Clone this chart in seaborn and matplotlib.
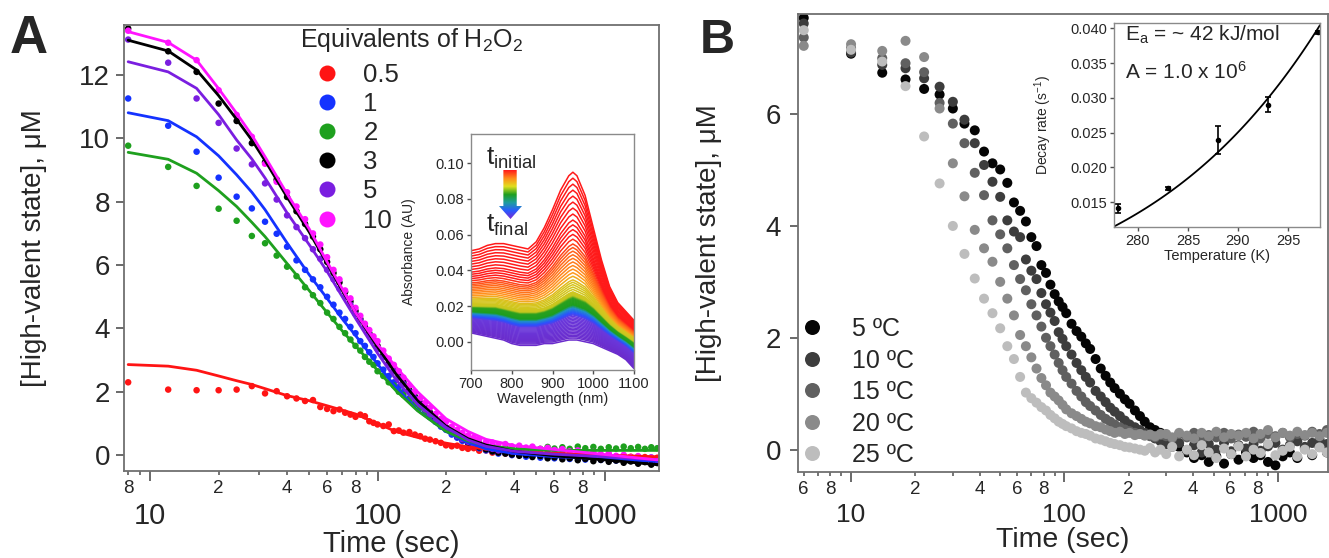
import numpy as np
import pandas as pd
import matplotlib
matplotlib.use("Agg")
import matplotlib.pyplot as plt
import seaborn as sns
from matplotlib.ticker import FixedLocator, FixedFormatter, FuncFormatter, FormatStrFormatter
from matplotlib.lines import Line2D
from matplotlib.patches import Polygon
from matplotlib.colors import LinearSegmentedColormap

# ---------------- Panel A: decay for different H2O2 equivalents ----------------
equiv_labels = ["0.5", "1", "2", "3", "5", "10"]
equiv_colors = ["#ff1414", "#1432ff", "#1ea01e", "#000000", "#7a1ee0", "#ff14ff"]

time_a = [8, 12, 16, 20, 24, 28, 32, 36, 40, 44, 48, 52, 56, 60, 64, 68, 72, 76, 80, 84, 88, 92, 96, 100,
          106, 112, 118, 124, 130, 138, 146, 154, 162, 170, 180, 190, 200, 212, 224, 236, 250, 265, 280,
          300, 320, 340, 365, 390, 420, 450, 480, 520, 560, 600, 650, 700, 760, 820, 890, 960,
          1040, 1120, 1210, 1300, 1400, 1500, 1600, 1700]

conc_a_05 = [2.30, 2.07, 2.05, 2.05, 2.07, 2.18, 1.95, 2.02, 1.86, 1.79, 1.71, 1.74, 1.52, 1.46, 1.39, 1.44,
             1.34, 1.28, 1.21, 1.28, 1.23, 1.07, 1.02, 0.97, 0.92, 0.97, 0.76, 0.78, 0.71, 0.73, 0.65, 0.60,
             0.52, 0.49, 0.44, 0.39, 0.31, 0.28, 0.30, 0.23, 0.20, 0.22, 0.14, 0.15, 0.08, 0.10, 0.05, 0.07,
             0.02, 0.04, -0.02, 0.03, -0.03, 0.00, -0.04, 0.02, -0.05, -0.02, -0.06, -0.03, -0.07, -0.04,
             -0.08, -0.05, -0.09, -0.06, -0.10, -0.08]
conc_a_1 = [11.26, 10.40, 9.58, 8.76, 8.16, 7.79, 7.37, 6.99, 6.58, 6.15, 5.85, 5.55, 5.30, 5.00, 4.75, 4.50,
            4.30, 4.05, 3.85, 3.60, 3.45, 3.25, 3.10, 2.90, 2.70, 2.50, 2.30, 2.15, 2.00, 1.80, 1.65, 1.50,
            1.35, 1.20, 1.05, 0.90, 0.80, 0.65, 0.55, 0.45, 0.38, 0.30, 0.22, 0.15, 0.12, 0.05, 0.06, 0.00,
            0.02, -0.05, -0.02, -0.08, -0.05, -0.10, -0.07, -0.12, -0.08, -0.14, -0.10, -0.15, -0.11, -0.17,
            -0.12, -0.18, -0.14, -0.20, -0.16, -0.22]
conc_a_2 = [9.77, 9.10, 8.50, 7.78, 7.40, 6.92, 6.69, 6.30, 5.95, 5.65, 5.30, 5.05, 4.80, 4.50, 4.30, 4.05,
            3.85, 3.65, 3.45, 3.30, 3.10, 2.95, 2.85, 2.65, 2.50, 2.30, 2.20, 2.00, 1.90, 1.75, 1.60, 1.50,
            1.35, 1.25, 1.10, 1.00, 0.85, 0.75, 0.70, 0.55, 0.50, 0.42, 0.38, 0.30, 0.30, 0.22, 0.25, 0.20,
            0.22, 0.18, 0.24, 0.20, 0.26, 0.21, 0.25, 0.20, 0.27, 0.22, 0.26, 0.20, 0.25, 0.21, 0.27, 0.22,
            0.26, 0.20, 0.25, 0.22]
conc_a_3 = [13.47, 12.75, 12.10, 11.10, 10.55, 9.85, 9.25, 8.70, 8.15, 7.70, 7.30, 6.90, 6.50, 6.10, 5.75, 5.45,
            5.15, 4.85, 4.55, 4.30, 4.05, 3.85, 3.65, 3.45, 3.15, 2.90, 2.70, 2.50, 2.30, 2.05, 1.85, 1.65,
            1.50, 1.35, 1.15, 1.00, 0.88, 0.72, 0.60, 0.50, 0.40, 0.32, 0.25, 0.18, 0.12, 0.08, 0.05, 0.02,
            -0.02, 0.00, -0.06, -0.03, -0.10, -0.07, -0.13, -0.10, -0.16, -0.12, -0.19, -0.15, -0.21, -0.17,
            -0.24, -0.20, -0.27, -0.22, -0.30, -0.25]
conc_a_5 = [13.12, 12.39, 11.26, 10.49, 9.68, 9.18, 8.58, 8.07, 7.57, 7.20, 6.85, 6.50, 6.20, 5.85, 5.55, 5.25,
            5.00, 4.75, 4.45, 4.25, 4.00, 3.80, 3.60, 3.35, 3.10, 2.85, 2.65, 2.45, 2.25, 2.00, 1.80, 1.60,
            1.45, 1.30, 1.10, 0.95, 0.85, 0.70, 0.60, 0.50, 0.42, 0.35, 0.30, 0.25, 0.20, 0.15, 0.17, 0.12,
            0.14, 0.08, 0.11, 0.05, 0.08, 0.02, 0.05, 0.00, 0.03, -0.03, 0.01, -0.05, -0.02, -0.07,
            -0.03, -0.09, -0.05, -0.10, -0.07, -0.12]
conc_a_10 = [13.40, 13.02, 12.47, 11.52, 10.74, 10.05, 9.20, 8.63, 8.30, 7.85, 7.45, 7.00, 6.65, 6.25, 5.85, 5.55,
             5.20, 4.95, 4.65, 4.40, 4.15, 3.95, 3.75, 3.60, 3.30, 3.05, 2.85, 2.65, 2.45, 2.20, 2.00, 1.80,
             1.65, 1.50, 1.30, 1.15, 1.05, 0.90, 0.80, 0.70, 0.62, 0.55, 0.50, 0.42, 0.40, 0.33, 0.35, 0.28,
             0.30, 0.24, 0.27, 0.20, 0.23, 0.16, 0.19, 0.12, 0.15, 0.08, 0.10, 0.03, 0.06, -0.02,
             0.01, -0.06, -0.03, -0.10, -0.08, -0.15]

fit_time_a = [8, 12, 16, 20, 24, 28, 32, 40, 50, 60, 70, 80, 100, 120, 150, 200, 250, 300, 400, 600, 1000, 1700]
fit_a_05 = [2.86, 2.81, 2.68, 2.50, 2.35, 2.23, 2.10, 1.88, 1.72, 1.56, 1.42, 1.30, 1.00, 0.75, 0.56, 0.38,
            0.26, 0.19, 0.12, 0.06, 0.00, -0.05]
fit_a_1 = [10.81, 10.56, 10.05, 9.45, 8.85, 8.30, 7.75, 6.70, 5.70, 4.95, 4.30, 3.78, 2.88, 2.15, 1.42, 0.75,
           0.40, 0.20, 0.05, -0.05, -0.12, -0.20]
fit_a_2 = [9.56, 9.34, 8.90, 8.35, 7.85, 7.35, 6.90, 6.05, 5.20, 4.50, 3.92, 3.45, 2.68, 2.05, 1.40, 0.75,
           0.45, 0.30, 0.20, 0.15, 0.15, 0.15]
fit_a_3 = [13.10, 12.76, 12.16, 11.35, 10.60, 9.95, 9.30, 8.15, 7.05, 6.05, 5.20, 4.50, 3.42, 2.58, 1.72, 0.92,
           0.52, 0.32, 0.12, -0.02, -0.15, -0.30]
fit_a_5 = [12.42, 12.10, 11.58, 10.75, 9.95, 9.35, 8.75, 7.65, 6.65, 5.80, 5.00, 4.32, 3.22, 2.40, 1.60, 0.88,
           0.48, 0.28, 0.12, 0.03, -0.05, -0.15]
fit_a_10 = [13.37, 13.03, 12.47, 11.57, 10.79, 10.10, 9.42, 8.25, 7.15, 6.10, 5.25, 4.50, 3.50, 2.80, 2.00, 1.15,
            0.75, 0.50, 0.30, 0.18, 0.02, -0.15]

# inset A: NIR spectra from t_initial (red) to t_final (purple)
wavelength = [700, 720, 740, 760, 780, 800, 820, 840, 860, 880, 900, 920, 940, 950, 960, 980, 1000,
              1020, 1040, 1060, 1080, 1100]
abs_initial = [0.051, 0.052, 0.054, 0.055, 0.055, 0.054, 0.053, 0.052, 0.056, 0.064, 0.074, 0.085, 0.093,
               0.095, 0.093, 0.082, 0.064, 0.046, 0.031, 0.022, 0.017, 0.012]
abs_middle = [0.021, 0.021, 0.021, 0.021, 0.020, 0.019, 0.018, 0.018, 0.018, 0.019, 0.021, 0.024, 0.027,
              0.028, 0.027, 0.025, 0.021, 0.016, 0.011, 0.007, 0.004, 0.001]
abs_final = [0.005, 0.004, 0.003, 0.002, 0.001, -0.001, -0.002, -0.002, -0.002, -0.001, -0.001, 0.000, 0.001,
             0.001, 0.001, 0.000, -0.001, -0.003, -0.005, -0.007, -0.010, -0.015]
trace_fraction = [1.0, 0.975, 0.95, 0.925, 0.90, 0.875, 0.85, 0.825, 0.80, 0.78, 0.76, 0.74, 0.72,
                  0.70, 0.685, 0.67, 0.655, 0.64, 0.625, 0.61, 0.595, 0.58, 0.565,
                  0.55, 0.54, 0.53, 0.52, 0.51, 0.50, 0.49, 0.48, 0.47, 0.46, 0.45,
                  0.44, 0.43, 0.42, 0.41, 0.40, 0.39, 0.38, 0.37, 0.36, 0.35,
                  0.34, 0.33, 0.32, 0.31, 0.30, 0.29, 0.28, 0.27,
                  0.26, 0.245, 0.23, 0.215, 0.20, 0.185, 0.17, 0.155, 0.14, 0.125, 0.11, 0.095, 0.08,
                  0.065, 0.05, 0.035, 0.02, 0.0]
spec_color_pos = [0.0, 0.24, 0.28, 0.33, 0.36, 0.43, 0.46, 0.54, 0.58, 0.68, 0.74, 1.0]
spec_color_val = ["#6a2ccc", "#6a38dc", "#2a50ff", "#1e90c8", "#1e9e1e", "#2aa01e", "#c8c81e", "#d8c41e",
                  "#ff9a1e", "#ff5a1a", "#ff1a1a", "#ff1a1a"]

# ---------------- Panel B: temperature dependence ----------------
temp_labels = ["5 ºC", "10 ºC", "15 ºC", "20 ºC", "25 ºC"]
temp_colors = ["#050505", "#3d3d3d", "#606060", "#8a8a8a", "#bdbdbd"]

time_b = [6, 10, 14, 18, 22, 26, 30, 34, 38, 42, 46, 50, 54, 58, 62, 66, 70, 74, 78, 82, 86, 90, 94, 98, 102,
          108, 114, 120, 126, 132, 140, 148, 156, 164, 172, 182, 192, 202, 214, 226, 238, 252, 266, 282,
          300, 320, 345, 375, 405, 440, 475, 515, 560, 605, 655, 710, 770, 830, 900, 975, 1055, 1140,
          1235, 1340, 1450, 1570, 1700]

conc_b_5 = [7.72, 7.08, 6.74, 6.62, 6.45, 6.35, 6.10, 5.83, 5.71, 5.33, 5.12, 5.01, 4.77, 4.42, 4.27, 4.08,
            3.80, 3.64, 3.30, 3.16, 2.95, 2.78, 2.65, 2.55, 2.44,
            2.25, 2.12, 2.02, 1.90, 1.80, 1.62, 1.45, 1.32, 1.20, 1.10, 1.00, 0.90, 0.82, 0.70, 0.60, 0.50,
            0.40, 0.35, 0.30,
            0.20, 0.12, 0.05, -0.05, -0.15, -0.10, -0.22, -0.12, -0.25, -0.08, -0.18, -0.05, -0.15, -0.10,
            -0.22, -0.28, -0.12, -0.05, -0.15, 0.02, -0.10, 0.05, -0.05]
conc_b_10 = [7.62, 7.10, 6.88, 6.82, 6.64, 6.49, 6.22, 5.90, 5.48, 5.09, 4.79, 4.52, 4.10, 3.90, 3.80, 3.40,
             3.20, 3.05, 2.80, 2.60, 2.45, 2.30, 2.10, 1.98, 1.85,
             1.70, 1.55, 1.42, 1.30, 1.20, 1.05, 0.95, 0.85, 0.75, 0.68, 0.60, 0.52, 0.45, 0.40, 0.35, 0.30,
             0.25, 0.20, 0.15,
             0.10, 0.05, 0.12, -0.02, 0.08, -0.05, 0.10, 0.00, 0.12, -0.03, 0.08, 0.02, 0.10, -0.02, 0.06,
             0.12, 0.00, 0.08, 0.15, 0.05, 0.12, 0.18, 0.10]
conc_b_15 = [7.37, 7.18, 7.00, 6.91, 6.75, 6.20, 5.83, 5.48, 4.95, 4.55, 4.10, 3.85, 3.60, 3.30, 3.05, 2.85,
             2.60, 2.40, 2.20, 2.00, 1.85, 1.70, 1.55, 1.42, 1.30,
             1.18, 1.05, 0.95, 0.85, 0.78, 0.70, 0.62, 0.55, 0.50, 0.45, 0.40, 0.36, 0.33, 0.30, 0.28, 0.26,
             0.24, 0.22, 0.26,
             0.24, 0.20, 0.28, 0.22, 0.30, 0.18, 0.26, 0.22, 0.30, 0.20, 0.27, 0.23, 0.32, 0.20, 0.28, 0.24,
             0.30, 0.22, 0.28, 0.25, 0.32, 0.28, 0.35]
conc_b_20 = [7.22, 7.25, 7.13, 7.31, 7.02, 6.10, 5.12, 4.53, 3.93, 3.60, 3.36, 3.00, 2.70, 2.40, 2.05, 1.85,
             1.65, 1.45, 1.28, 1.15, 1.02, 0.95, 0.88, 0.80, 0.72,
             0.65, 0.60, 0.55, 0.50, 0.47, 0.42, 0.40, 0.36, 0.33, 0.30, 0.32, 0.28, 0.30, 0.26, 0.28, 0.25,
             0.27, 0.24, 0.28,
             0.28, 0.22, 0.30, 0.25, 0.20, 0.30, 0.24, 0.32, 0.22, 0.28, 0.25, 0.30, 0.20, 0.28, 0.35, 0.22,
             0.30, 0.25, 0.32, 0.26, 0.30, 0.24, 0.30]
conc_b_25 = [7.50, 7.15, 6.94, 6.50, 5.60, 4.76, 4.00, 3.50, 3.06, 2.70, 2.44, 2.17, 1.85, 1.62, 1.30, 1.02,
             0.92, 0.84, 0.76, 0.70, 0.62, 0.56, 0.50, 0.46, 0.42,
             0.38, 0.33, 0.30, 0.28, 0.25, 0.20, 0.18, 0.15, 0.12, 0.10, 0.08, 0.05, 0.04, 0.02, 0.00, -0.02,
             0.03, -0.05, 0.00,
             -0.08, 0.05, -0.12, 0.00, -0.10, 0.08, -0.05, -0.15, 0.02, -0.08, 0.06, -0.12, 0.00, -0.06, 0.10,
             -0.10, -0.02, 0.05, -0.12, 0.00, -0.08, 0.04, -0.05]

# inset B: Arrhenius plot
temp_k = [278, 283, 288, 293, 298]
decay_rate = [0.0141, 0.0170, 0.0240, 0.0290, 0.0394]
decay_err = [0.0007, 0.0002, 0.0020, 0.0011, 0.0002]
fit_ea = 42e3          # J/mol
fit_k_298 = 0.0400     # s^-1 at 298 K
R_GAS = 8.314

# ---------------- build tidy tables ----------------
pts_a = pd.concat([pd.DataFrame({"time": time_a, "conc": c, "equiv": lab})
                   for c, lab in zip([conc_a_05, conc_a_1, conc_a_2, conc_a_3, conc_a_5, conc_a_10], equiv_labels)])
fits_a = pd.concat([pd.DataFrame({"time": fit_time_a, "conc": c, "equiv": lab})
                    for c, lab in zip([fit_a_05, fit_a_1, fit_a_2, fit_a_3, fit_a_5, fit_a_10], equiv_labels)])
pts_b = pd.concat([pd.DataFrame({"time": time_b, "conc": c, "temp": lab})
                   for c, lab in zip([conc_b_5, conc_b_10, conc_b_15, conc_b_20, conc_b_25], temp_labels)])

wl = np.array(wavelength)
a_ini, a_mid, a_fin = np.array(abs_initial), np.array(abs_middle), np.array(abs_final)


def spectrum(f):
    # red -> yellow between initial and middle trace, yellow -> purple between middle and final
    if f >= 0.5:
        return a_mid + (f - 0.5) / 0.5 * (a_ini - a_mid)
    return a_fin + f / 0.5 * (a_mid - a_fin)


spec_cmap = LinearSegmentedColormap.from_list("spec", list(zip(spec_color_pos, spec_color_val)))
trace_names = [f"t{i:02d}" for i in range(len(trace_fraction))]
spectra = pd.concat([pd.DataFrame({"wavelength": wl, "absorbance": spectrum(f), "trace": n})
                     for f, n in zip(trace_fraction, trace_names)])
trace_palette = {n: spec_cmap(f) for f, n in zip(trace_fraction, trace_names)}

t_grid = np.linspace(277.6, 298.2, 80)
arrhenius = pd.DataFrame({"T": t_grid,
                          "k": fit_k_298 * np.exp(-fit_ea / R_GAS * (1 / t_grid - 1 / 298.0))})

# ---------------- styling ----------------
sns.set_style("ticks")
plt.rcParams["font.family"] = ["Liberation Sans", "DejaVu Sans"]
plt.rcParams["mathtext.default"] = "regular"

W, H = 1329, 558
fig = plt.figure(figsize=(W / 100, H / 100), dpi=100)


def box(l, t, r, b):
    return [l / W, 1 - b / H, (r - l) / W, (b - t) / H]


def frame(ax, lw=1.3, color="#707070"):
    for s in ax.spines.values():
        s.set_visible(True)
        s.set_color(color)
        s.set_linewidth(lw)
    ax.tick_params(which="both", direction="out", color="#505050", top=False, right=False)


def log_time_axis(ax, lo, hi, major_size):
    ax.set_xscale("log")
    ax.set_xlim(lo, hi)
    ax.xaxis.set_major_locator(FixedLocator([10, 100, 1000]))
    ax.xaxis.set_major_formatter(FixedFormatter(["10", "100", "1000"]))
    ax.xaxis.set_minor_locator(FixedLocator([m * 10 ** e for e in range(3) for m in range(2, 10)]))

    def minor_fmt(v, pos):
        m = int(round(v / 10 ** np.floor(np.log10(v) + 1e-9)))
        return str(m) if m % 2 == 0 else ""
    ax.xaxis.set_minor_formatter(FuncFormatter(minor_fmt))
    ax.tick_params(axis="x", which="major", length=7, width=1.2, pad=15, labelsize=major_size)
    ax.tick_params(axis="x", which="minor", length=3.2, width=1.1, pad=3.3, labelsize=13.5)


# ---------------- panel A ----------------
ax_a = fig.add_axes(box(124, 25, 659, 471))
sns.scatterplot(data=pts_a, x="time", y="conc", hue="equiv", hue_order=equiv_labels,
                palette=dict(zip(equiv_labels, equiv_colors)), s=22, linewidth=0, legend=False, ax=ax_a)
sns.lineplot(data=fits_a, x="time", y="conc", hue="equiv", hue_order=equiv_labels,
             palette=dict(zip(equiv_labels, equiv_colors)), lw=2, estimator=None, legend=False, ax=ax_a)
frame(ax_a)
log_time_axis(ax_a, 7.67, 1730, 21)
ax_a.set_ylim(-0.5, 13.58)
ax_a.set_yticks([0, 2, 4, 6, 8, 10, 12])
ax_a.tick_params(axis="y", labelsize=20, length=6, width=1.2, pad=4)
ax_a.set_xlabel("Time (sec)", fontsize=21, labelpad=0)
ax_a.set_ylabel("[High-valent state], μM", fontsize=20)
ax_a.yaxis.set_label_coords(-0.144, 0.5)

ax_a.text(0.329, 0.951, "Equivalents of H$_2$O$_2$", transform=ax_a.transAxes, fontsize=18, va="baseline")
handles_a = [Line2D([], [], marker="o", ls="", color=c, markersize=11.5, markeredgewidth=0) for c in equiv_colors]
ax_a.legend(handles_a, equiv_labels, loc="upper left", bbox_to_anchor=(0.361, 0.915), frameon=False,
            fontsize=18.5, handlelength=0.8, handletextpad=1.0, labelspacing=0.2, borderpad=0, borderaxespad=0)

# inset A
ax_ai = fig.add_axes(box(471, 134, 634, 370))
sns.lineplot(data=spectra, x="wavelength", y="absorbance", hue="trace", hue_order=trace_names,
             palette=trace_palette, lw=1.1, estimator=None, legend=False, ax=ax_ai)
frame(ax_ai, lw=1.0, color="#8a8a8a")
ax_ai.set_xlim(700, 1100)
ax_ai.set_ylim(-0.0158, 0.1164)
ax_ai.set_xticks([700, 800, 900, 1000, 1100])
ax_ai.set_yticks([0.0, 0.02, 0.04, 0.06, 0.08, 0.10])
ax_ai.yaxis.set_major_formatter(FormatStrFormatter("%.2f"))
ax_ai.tick_params(labelsize=10.5, length=3, width=1.0, pad=2)
ax_ai.set_xlabel("Wavelength (nm)", fontsize=10.5, labelpad=1)
ax_ai.set_ylabel("Absorbance (AU)", fontsize=10)
ax_ai.yaxis.set_label_coords(-0.34, 0.5)
ax_ai.text(0.092, 0.869, "t$_{initial}$", transform=ax_ai.transAxes, fontsize=19, va="baseline")
ax_ai.text(0.092, 0.585, "t$_{final}$", transform=ax_ai.transAxes, fontsize=19, va="baseline")

ax_arr = fig.add_axes(box(499, 170, 522, 219))
ax_arr.axis("off")
arrow_cmap = LinearSegmentedColormap.from_list(
    "arrow", ["#7a2ad0", "#2a5aff", "#1e9ea0", "#1e9e1e", "#e0e020", "#ff8c1a", "#ff1a1a"])
im = ax_arr.imshow(np.linspace(0, 1, 200).reshape(-1, 1), extent=(0, 1, 0, 1), aspect="auto",
                   cmap=arrow_cmap, origin="lower")
arrow_shape = Polygon([[0.19, 1], [0.77, 1], [0.77, 0.265], [1, 0.265], [0.5, 0], [0, 0.265], [0.19, 0.265]],
                      closed=True, transform=ax_arr.transAxes, fc="none", ec="none")
ax_arr.add_patch(arrow_shape)
im.set_clip_path(arrow_shape)
ax_arr.set_xlim(0, 1)
ax_arr.set_ylim(0, 1)

# ---------------- panel B ----------------
ax_b = fig.add_axes(box(798, 14, 1328, 472))
sns.scatterplot(data=pts_b, x="time", y="conc", hue="temp", hue_order=temp_labels,
                palette=dict(zip(temp_labels, temp_colors)), s=52, linewidth=0, legend=False, ax=ax_b)
frame(ax_b)
log_time_axis(ax_b, 5.64, 1720, 19)
ax_b.set_ylim(-0.40, 7.79)
ax_b.set_yticks([0, 2, 4, 6])
ax_b.tick_params(axis="y", labelsize=20, length=6, width=1.2, pad=6)
ax_b.set_xlabel("Time (sec)", fontsize=20.5, labelpad=0)
ax_b.set_ylabel("[High-valent state], μM", fontsize=20)
ax_b.yaxis.set_label_coords(-0.143, 0.5)

handles_b = [Line2D([], [], marker="o", ls="", color=c, markersize=10.8, markeredgewidth=0) for c in temp_colors]
ax_b.legend(handles_b, temp_labels, loc="upper left", bbox_to_anchor=(0.0075, 0.338), frameon=False,
            fontsize=18, handlelength=0.8, handletextpad=1.2, labelspacing=0.3, borderpad=0, borderaxespad=0)

# inset B
ax_bi = fig.add_axes(box(1114, 23, 1320, 227))
sns.lineplot(data=arrhenius, x="T", y="k", color="black", lw=1.3, ax=ax_bi)
ax_bi.errorbar(temp_k, decay_rate, yerr=decay_err, fmt="o", color="black", ms=3, capsize=2.5,
               elinewidth=1.2, capthick=1.2)
frame(ax_bi, lw=1.0, color="#8a8a8a")
ax_bi.set_xlim(277.6, 298.2)
ax_bi.set_ylim(0.01144, 0.04076)
ax_bi.set_xticks([280, 285, 290, 295])
ax_bi.set_yticks([0.015, 0.020, 0.025, 0.030, 0.035, 0.040])
ax_bi.yaxis.set_major_formatter(FormatStrFormatter("%.3f"))
ax_bi.tick_params(labelsize=10.5, length=3, width=1.0, pad=2)
ax_bi.set_xlabel("Temperature (K)", fontsize=10.5, labelpad=1)
ax_bi.set_ylabel("Decay rate (s$^{-1}$)", fontsize=10)
ax_bi.yaxis.set_label_coords(-0.29, 0.5)
ax_bi.text(0.053, 0.941, "E$_a$ = ~ 42 kJ/mol", transform=ax_bi.transAxes, fontsize=15, va="center")
ax_bi.text(0.053, 0.76, "A = 1.0 x 10$^6$", transform=ax_bi.transAxes, fontsize=15, va="center")

# panel letters
fig.text(10 / W, 1 - 53 / H, "A", fontsize=38, fontweight="bold", va="baseline")
fig.text(700 / W, 1 - 53 / H, "B", fontsize=35, fontweight="bold", va="baseline")

fig.savefig("out.png", dpi=100)
